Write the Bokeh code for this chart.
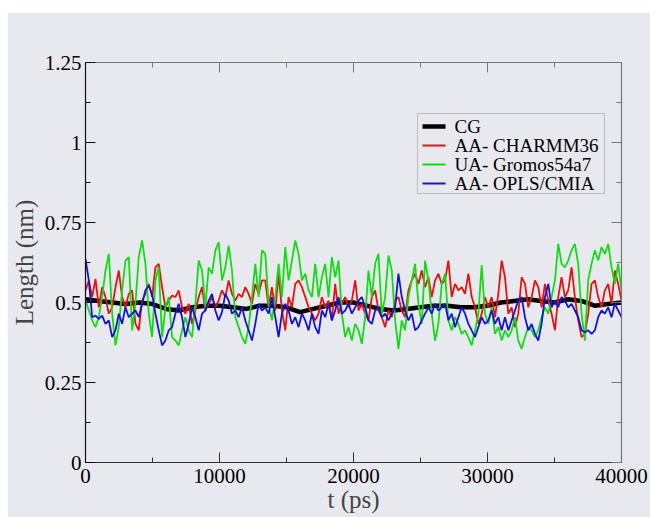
from bokeh.plotting import figure
from bokeh.models import (FixedTicker, CustomJSTickFormatter, LinearAxis,
                          Range1d, BoxAnnotation, Arrow, Label)
from bokeh.embed import file_html
from bokeh.resources import INLINE
import numpy as np

# ---- data -------------------------------------------------------------
# colored series are sampled every ~248 ps over 0..40000 ps
t_aa = np.linspace(0, 40000, 162)

charmm36 = [
    0.538, 0.569, 0.517, 0.574, 0.485, 0.548, 0.517, 0.465, 0.485, 0.548, 0.600, 0.517, 0.485, 0.527,
    0.538, 0.433, 0.413, 0.506, 0.527, 0.558, 0.517, 0.610, 0.621, 0.548, 0.485, 0.506, 0.522,
    0.517, 0.538, 0.485, 0.465, 0.496, 0.433, 0.475, 0.517, 0.548, 0.475, 0.496, 0.517, 0.485, 0.506,
    0.538, 0.517, 0.569, 0.527, 0.506, 0.527, 0.517, 0.548, 0.527, 0.496, 0.558, 0.527, 0.569,
    0.569, 0.485, 0.548, 0.475, 0.590, 0.475, 0.413, 0.517, 0.485, 0.558, 0.569, 0.548, 0.517, 0.485,
    0.465, 0.444, 0.465, 0.517, 0.485, 0.506, 0.444, 0.558, 0.465, 0.496, 0.517, 0.485, 0.506,
    0.569, 0.475, 0.496, 0.465, 0.444, 0.517, 0.538, 0.475, 0.454, 0.423, 0.475, 0.454, 0.506, 0.517,
    0.475, 0.454, 0.538, 0.569, 0.590, 0.558, 0.600, 0.548, 0.579, 0.517, 0.569, 0.590, 0.558,
    0.569, 0.631, 0.517, 0.558, 0.538, 0.548, 0.527, 0.590, 0.517, 0.485, 0.433, 0.465, 0.517, 0.485,
    0.517, 0.454, 0.527, 0.631, 0.579, 0.465, 0.485, 0.423, 0.465, 0.579, 0.558, 0.485, 0.517,
    0.569, 0.548, 0.485, 0.558, 0.506, 0.465, 0.413, 0.517, 0.579, 0.517, 0.538, 0.610, 0.517, 0.444,
    0.392, 0.402, 0.465, 0.558, 0.569, 0.517, 0.485, 0.538, 0.558, 0.496, 0.600, 0.558, 0.506,
]

gromos54a7 = [
    0.506, 0.475, 0.444, 0.423, 0.454, 0.517, 0.600, 0.652, 0.465, 0.366, 0.423, 0.538, 0.631, 0.642,
    0.413, 0.496, 0.642, 0.694, 0.621, 0.465, 0.392, 0.569, 0.610, 0.392, 0.485, 0.517, 0.392,
    0.381, 0.366, 0.413, 0.454, 0.413, 0.392, 0.496, 0.631, 0.600, 0.485, 0.610, 0.590, 0.663, 0.689,
    0.569, 0.610, 0.678, 0.600, 0.454, 0.423, 0.392, 0.371, 0.423, 0.517, 0.621, 0.517, 0.663,
    0.652, 0.496, 0.444, 0.517, 0.621, 0.517, 0.673, 0.569, 0.631, 0.694, 0.652, 0.569, 0.590, 0.538,
    0.517, 0.621, 0.517, 0.579, 0.621, 0.517, 0.642, 0.579, 0.631, 0.465, 0.392, 0.423, 0.381,
    0.433, 0.413, 0.371, 0.454, 0.600, 0.517, 0.621, 0.652, 0.465, 0.517, 0.647, 0.600, 0.444, 0.355,
    0.444, 0.413, 0.517, 0.569, 0.621, 0.496, 0.433, 0.631, 0.569, 0.465, 0.381, 0.433, 0.558,
    0.590, 0.444, 0.413, 0.454, 0.433, 0.402, 0.413, 0.392, 0.366, 0.413, 0.465, 0.616, 0.465, 0.433,
    0.485, 0.402, 0.423, 0.381, 0.413, 0.392, 0.413, 0.454, 0.381, 0.355, 0.392, 0.423, 0.413,
    0.392, 0.413, 0.454, 0.485, 0.465, 0.517, 0.569, 0.683, 0.621, 0.610, 0.631, 0.663, 0.683, 0.621,
    0.465, 0.381, 0.569, 0.621, 0.663, 0.631, 0.673, 0.652, 0.683, 0.610, 0.558, 0.621, 0.538,
]

opls_cmia = [
    0.636, 0.569, 0.454, 0.459, 0.449, 0.459, 0.433, 0.444, 0.392, 0.413, 0.465, 0.433, 0.485, 0.454,
    0.465, 0.475, 0.454, 0.496, 0.538, 0.553, 0.527, 0.465, 0.413, 0.366, 0.381, 0.413, 0.423,
    0.465, 0.496, 0.454, 0.392, 0.433, 0.485, 0.454, 0.413, 0.465, 0.475, 0.506, 0.527, 0.475, 0.444,
    0.470, 0.527, 0.506, 0.465, 0.475, 0.454, 0.485, 0.444, 0.413, 0.381, 0.433, 0.496, 0.475,
    0.485, 0.465, 0.517, 0.454, 0.392, 0.465, 0.496, 0.475, 0.433, 0.454, 0.423, 0.465, 0.444, 0.413,
    0.465, 0.423, 0.402, 0.475, 0.454, 0.496, 0.444, 0.475, 0.517, 0.465, 0.475, 0.496, 0.465,
    0.485, 0.506, 0.517, 0.485, 0.444, 0.433, 0.475, 0.485, 0.454, 0.465, 0.444, 0.465, 0.485, 0.590,
    0.517, 0.475, 0.444, 0.465, 0.413, 0.423, 0.444, 0.465, 0.485, 0.465, 0.496, 0.475, 0.485,
    0.496, 0.444, 0.465, 0.423, 0.454, 0.485, 0.465, 0.433, 0.413, 0.392, 0.423, 0.454, 0.433, 0.444,
    0.475, 0.433, 0.454, 0.413, 0.454, 0.413, 0.444, 0.475, 0.506, 0.517, 0.454, 0.413, 0.433,
    0.402, 0.381, 0.433, 0.517, 0.558, 0.485, 0.506, 0.485, 0.517, 0.506, 0.485, 0.496, 0.475, 0.454,
    0.413, 0.407, 0.413, 0.402, 0.413, 0.454, 0.475, 0.465, 0.485, 0.454, 0.496, 0.475, 0.454,
]

# coarse-grained model, every 1000 ps
t_cg = np.arange(0, 40001, 1000)
cg = [
    0.510, 0.505, 0.500, 0.495, 0.500, 0.495, 0.480, 0.475, 0.485, 0.490, 0.490,
    0.485, 0.480, 0.490, 0.490, 0.485, 0.470, 0.480, 0.490, 0.500, 0.500,
    0.490, 0.480, 0.475, 0.480, 0.485, 0.490, 0.490, 0.485, 0.485, 0.490,
    0.500, 0.505, 0.510, 0.505, 0.500, 0.510, 0.505, 0.490, 0.495, 0.500,
]

series_labels = ["CG", "AA- CHARMM36", "UA- Gromos54a7", "AA- OPLS/CMIA"]

x_ticks = [0, 10000, 20000, 30000, 40000]
x_tick_labels = ["0", "10000", "20000", "30000", "40000"]
x_minor = [5000, 15000, 25000, 35000]
y_ticks = [0, 0.25, 0.5, 0.75, 1.0, 1.25]
y_tick_labels = ["0", "0.25", "0.5", "0.75", "1", "1.25"]
y_minor = [0.125, 0.375, 0.625, 0.875, 1.125]

# ---- style ------------------------------------------------------------
GRAY = "#e8e9ee"
FONT = "Liberation Serif"
COLORS = ["black", "#e81010", "#12dd12", "#1414d8"]
WIDTHS = [4.5, 1.8, 1.8, 1.8]

p = figure(width=643, height=505, margin=(12, 0, 0, 7),
           x_range=Range1d(0, 40000), y_range=Range1d(0, 1.25),
           output_backend="svg", toolbar_location=None,
           min_border_left=77, min_border_right=29,
           min_border_top=50, min_border_bottom=55,
           background_fill_color=GRAY, border_fill_color=GRAY,
           outline_line_color=None)
p.xgrid.visible = False
p.ygrid.visible = False


def label_formatter(vals, labels):
    return CustomJSTickFormatter(args=dict(vals=vals, labels=labels), code="""
        const i = vals.findIndex(v => Math.abs(v - tick) < 1e-6);
        return i >= 0 ? labels[i] : '';
    """)


def style_axis(ax, color):
    ax.axis_line_color = color
    ax.axis_line_width = 1.2
    ax.major_tick_line_color = color
    ax.minor_tick_line_color = color
    ax.major_tick_in = 10
    ax.major_tick_out = 0
    ax.minor_tick_in = 5
    ax.minor_tick_out = 0


xt = FixedTicker(ticks=x_ticks, minor_ticks=x_minor)
yt = FixedTicker(ticks=y_ticks, minor_ticks=y_minor)

xa = p.xaxis[0]
xa.ticker = xt
xa.formatter = label_formatter(x_ticks, x_tick_labels)
style_axis(xa, "#333333")
xa.major_label_text_font = FONT
xa.major_label_text_font_size = "21px"
xa.major_label_text_color = "black"
xa.major_label_standoff = 6
xa.axis_label = "t (ps)"
xa.axis_label_text_font = FONT
xa.axis_label_text_font_size = "25px"
xa.axis_label_text_font_style = "normal"
xa.axis_label_standoff = 0

ya = p.yaxis[0]
ya.ticker = yt
ya.formatter = label_formatter(y_ticks, y_tick_labels)
style_axis(ya, "#111111")
ya.major_label_text_font = FONT
ya.major_label_text_font_size = "21px"
ya.major_label_text_color = "black"
ya.major_label_standoff = 4
ya.axis_label = "Length (nm)"
ya.axis_label_text_font = FONT
ya.axis_label_text_font_size = "25px"
ya.axis_label_text_font_style = "normal"
ya.axis_label_standoff = 4

empty = CustomJSTickFormatter(code="return '';")
top = LinearAxis(ticker=xt, formatter=empty, major_label_text_font_size="0px")
right = LinearAxis(ticker=yt, formatter=empty, major_label_text_font_size="0px")
style_axis(top, "#777777")
style_axis(right, "#777777")
p.add_layout(top, "above")
p.add_layout(right, "right")

# ---- series -----------------------------------------------------------
p.line(t_cg, cg, line_color=COLORS[0], line_width=WIDTHS[0])
p.line(t_aa, charmm36, line_color=COLORS[1], line_width=WIDTHS[1])
p.line(t_aa, gromos54a7, line_color=COLORS[2], line_width=WIDTHS[2])
p.line(t_aa, opls_cmia, line_color=COLORS[3], line_width=WIDTHS[3])

# ---- legend box (screen units, measured from the frame's lower-left) --
LEG_LEFT, LEG_RIGHT, LEG_BOTTOM, LEG_TOP = 332, 519, 269, 349
ROW0, ROW_STEP = 336, 19
p.add_layout(BoxAnnotation(left=LEG_LEFT, right=LEG_RIGHT,
                           bottom=LEG_BOTTOM, top=LEG_TOP,
                           left_units="screen", right_units="screen",
                           bottom_units="screen", top_units="screen",
                           fill_color=GRAY, fill_alpha=1.0,
                           line_color="#555555", line_width=1,
                           level="annotation"))
for i, (lab, col, w) in enumerate(zip(series_labels, COLORS, WIDTHS)):
    row_y = ROW0 - i * ROW_STEP
    p.add_layout(Arrow(end=None, x_start=LEG_LEFT + 5, x_end=LEG_LEFT + 28,
                       y_start=row_y, y_end=row_y,
                       start_units="screen", end_units="screen",
                       line_color=col, line_width=w))
    p.add_layout(Label(x=LEG_LEFT + 37, y=row_y, x_units="screen",
                       y_units="screen", text=lab, text_font=FONT,
                       text_font_size="19px", text_baseline="middle",
                       text_align="left", text_color="black"))

open("out.html", "w").write(file_html(p, INLINE))
